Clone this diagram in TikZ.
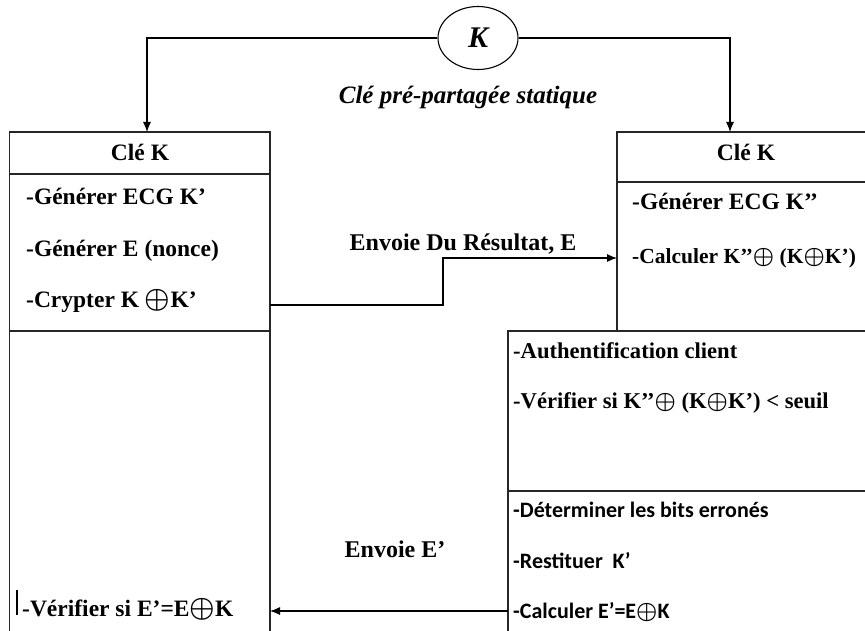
\documentclass[tikz,border=0pt]{standalone}
\usepackage{amsmath}
\usepackage{graphicx}
\usepackage{fontspec}
\setmainfont{Liberation Serif}
\newfontfamily\calib{Carlito}
\usetikzlibrary{arrows.meta,shapes.geometric}
\newcommand\xorop{\scalebox{1.15}{$\boldsymbol{\oplus}$}}
\begin{document}
\begin{tikzpicture}[x=1pt,y=-1pt,
  frame/.style={line width=1.2pt, draw=black!85},
  conn/.style={line width=1.1pt, draw=black},
  arr/.style={conn,-{Latex[length=10pt,width=8pt]}},
  txt/.style={anchor=base west, inner sep=0pt, font=\fontsize{23.5}{26}\selectfont\bfseries},
  ntxt/.style={anchor=base west, inner sep=0pt, font=\fontsize{21.5}{26}\selectfont\bfseries},
  stxt/.style={anchor=base west, inner sep=0pt, font=\fontsize{22.6}{24}\selectfont\bfseries},
  ctxt/.style={anchor=base west, inner sep=0pt, font=\fontsize{22}{24}\selectfont\calib\bfseries},
  head/.style={anchor=base, inner sep=0pt, font=\fontsize{23.5}{26}\selectfont\bfseries},
  lbl/.style={anchor=base, inner sep=0pt, font=\fontsize{24}{26}\selectfont\bfseries}]
\useasboundingbox (0,0) rectangle (865,631);
% boxes
\draw[frame] (9.5,640) -- (9.5,132) -- (270,132) -- (270,640);
\draw[frame] (9.5,174) -- (270,174);
\draw[frame] (9.5,331) -- (270,331);
\draw[frame] (870,132) -- (617,132) -- (617,331);
\draw[frame] (617,182) -- (870,182);
\draw[frame] (870,331) -- (508,331) -- (508,640);
\draw[frame] (508,491) -- (870,491);
% key
\node[draw, ellipse, line width=1.1pt, minimum width=80pt, minimum height=63pt, inner sep=0pt,
  font=\fontsize{30}{30}\selectfont\bfseries\itshape] (K) at (478,38) {K};
\node[anchor=base, inner sep=0pt, font=\fontsize{25}{26}\selectfont\bfseries\itshape] (cps) at (468,104) {Clé pré-partagée statique};
% texts left
\node[head] (hl) at (140,161) {Clé K};
\node[txt] (l1) at (26,205) {-Générer ECG K’};
\node[txt] (l2) at (26,257) {-Générer E (nonce)};
\node[txt] (l3) at (26,307) {-Crypter K \xorop K’};
\node[txt] (l4) at (22,616) {-Vérifier si E’=E\xorop K};
\draw[line width=2.6pt] (17,590) -- (17,615);
% texts right
\node[head] (hr) at (746,161) {Clé K};
\node[txt] (r1) at (632,210) {-Générer ECG K’’};
\node[ntxt] (r2) at (632,264) {-Calculer K’’\xorop\ (K\xorop K’)};
\node[stxt] (r3) at (513,358) {-Authentification client};
\node[stxt] (r4) at (513,408) {-Vérifier si K’’\xorop\ (K\xorop K’) < seuil};
\node[ctxt] (r5) at (513,517) {-Déterminer les bits erronés};
\node[ctxt] (r6) at (513,568) {-Restituer\ \ K’};
\node[ctxt] (r7) at (513,618) {-Calculer E’=E\xorop K};
% labels
\node[lbl] (e1) at (463,251) {Envoie Du Résultat, E};
\node[lbl] (e2) at (395,557) {Envoie E’};
% connectors
\coordinate (lc) at (147,38);
\coordinate (ltop) at (147,132);
\coordinate (rc) at (730,38);
\coordinate (rtop) at (730,132);
\draw[arr] (K.west) -- (lc) -- (ltop);
\draw[arr] (K.east) -- (rc) -- (rtop);
\coordinate (s1) at (270,305);
\coordinate (s2) at (443,305);
\coordinate (s3) at (443,258);
\coordinate (s4) at (617,258);
\draw[arr] (s1) -- (s2) -- (s3) -- (s4);
\coordinate (t1) at (508,611);
\coordinate (t2) at (270,611);
\draw[arr] (t1) -- (t2);
\end{tikzpicture}
\end{document}
